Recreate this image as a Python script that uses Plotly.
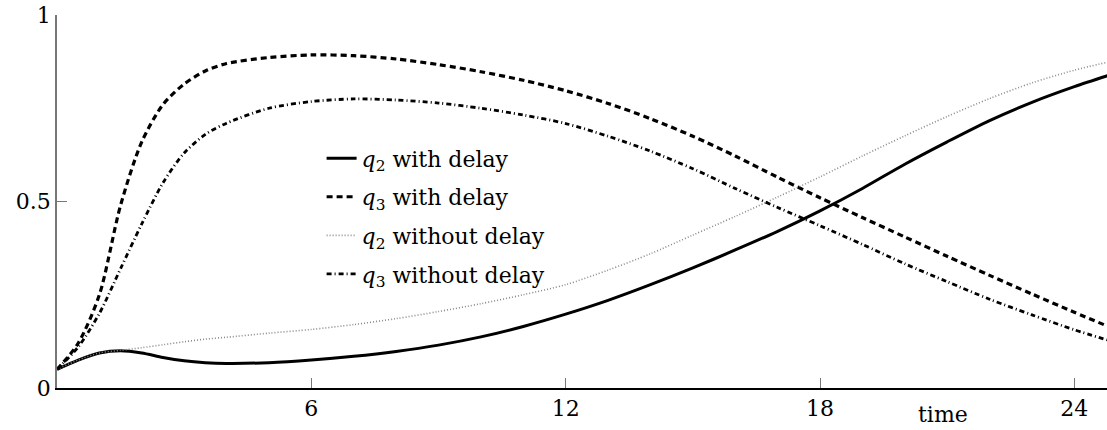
import plotly.graph_objects as go

# sample times
time = [0, 0.5, 1, 1.5, 2, 2.5, 3, 3.5, 4, 5, 6, 7, 8, 9, 10, 11, 12,
        13, 14, 15, 16, 17, 18, 19, 20, 21, 22, 23, 24, 24.8]

# q2 with delay
q2_delay = [0.05, 0.075, 0.094, 0.1, 0.094, 0.082, 0.073, 0.068, 0.066, 0.068,
            0.075, 0.085, 0.098, 0.115, 0.137, 0.165, 0.198, 0.235, 0.277,
            0.322, 0.37, 0.42, 0.475, 0.535, 0.6, 0.66, 0.717, 0.766, 0.808, 0.838]

# q3 with delay
q3_delay = [0.05, 0.12, 0.25, 0.49, 0.66, 0.76, 0.815, 0.85, 0.87, 0.886,
            0.893, 0.891, 0.882, 0.867, 0.848, 0.825, 0.797, 0.763, 0.722,
            0.675, 0.622, 0.565, 0.51, 0.457, 0.405, 0.353, 0.302, 0.252, 0.203, 0.165]

# q2 without delay
q2_nodelay = [0.05, 0.075, 0.094, 0.101, 0.108, 0.116, 0.124, 0.131, 0.136, 0.147,
              0.157, 0.17, 0.186, 0.205, 0.226, 0.25, 0.277, 0.316, 0.36,
              0.41, 0.46, 0.512, 0.566, 0.622, 0.676, 0.728, 0.776, 0.818, 0.852, 0.874]

# q3 without delay
q3_nodelay = [0.05, 0.11, 0.2, 0.32, 0.44, 0.55, 0.63, 0.68, 0.71, 0.75,
              0.768, 0.775, 0.772, 0.764, 0.75, 0.732, 0.709, 0.675, 0.635,
              0.588, 0.535, 0.484, 0.435, 0.385, 0.333, 0.285, 0.238, 0.196, 0.156, 0.128]

x_ticks = [6, 12, 18, 24]
y_ticks = [0, 0.5, 1]
y_ticktext = ["0", "0.5", "1"]

FONT = "DejaVu Serif"
FS = 22

series = [
    ("<i>q</i><sub>2</sub> with delay", q2_delay, dict(color="black", width=3, dash="solid")),
    ("<i>q</i><sub>3</sub> with delay", q3_delay, dict(color="black", width=3.2, dash="6px,4px")),
    ("<i>q</i><sub>2</sub> without delay", q2_nodelay, dict(color="#8a8a8a", width=1.6, dash="1px,2px")),
    ("<i>q</i><sub>3</sub> without delay", q3_nodelay, dict(color="black", width=2.8, dash="5px,3px,1px,3px")),
]

fig = go.Figure()
for i, (name, vals, style) in enumerate(series):
    fig.add_trace(go.Scatter(
        x=time, y=vals, mode="lines", name=name,
        line=dict(shape="spline", smoothing=0.8, **style),
        legendgroup=f"g{i}",
    ))

fig.add_annotation(
    x=20.9, xref="x", y=-0.072, yref="paper",
    text="time", showarrow=False,
    font=dict(family=FONT, size=FS, color="black"),
    xanchor="center", yanchor="middle",
)

fig.update_layout(
    width=1107, height=430,
    margin=dict(l=57, r=0, t=15, b=42),
    paper_bgcolor="white", plot_bgcolor="white",
    font=dict(family=FONT, size=FS, color="black"),
    showlegend=True,
    legend=dict(
        x=0.252, y=0.672, xanchor="left", yanchor="top",
        bgcolor="rgba(0,0,0,0)", borderwidth=0,
        traceorder="grouped", tracegroupgap=7,
        font=dict(family=FONT, size=FS, color="black"),
    ),
    xaxis=dict(
        range=[0, 24.77], showgrid=False, zeroline=False,
        showline=True, linecolor="black", linewidth=1.5,
        ticks="inside", ticklen=10, tickcolor="#777777", tickwidth=1.2,
        tickvals=x_ticks, ticktext=[str(v) for v in x_ticks],
        tickfont=dict(family=FONT, size=FS, color="black"),
    ),
    yaxis=dict(
        range=[0, 1], showgrid=False, zeroline=False,
        showline=True, linecolor="#777777", linewidth=1.5,
        ticks="inside", ticklen=10, tickcolor="#777777", tickwidth=1.2,
        tickvals=y_ticks, ticktext=y_ticktext,
        tickfont=dict(family=FONT, size=FS, color="black"),
    ),
)

fig.write_html("out.html")
